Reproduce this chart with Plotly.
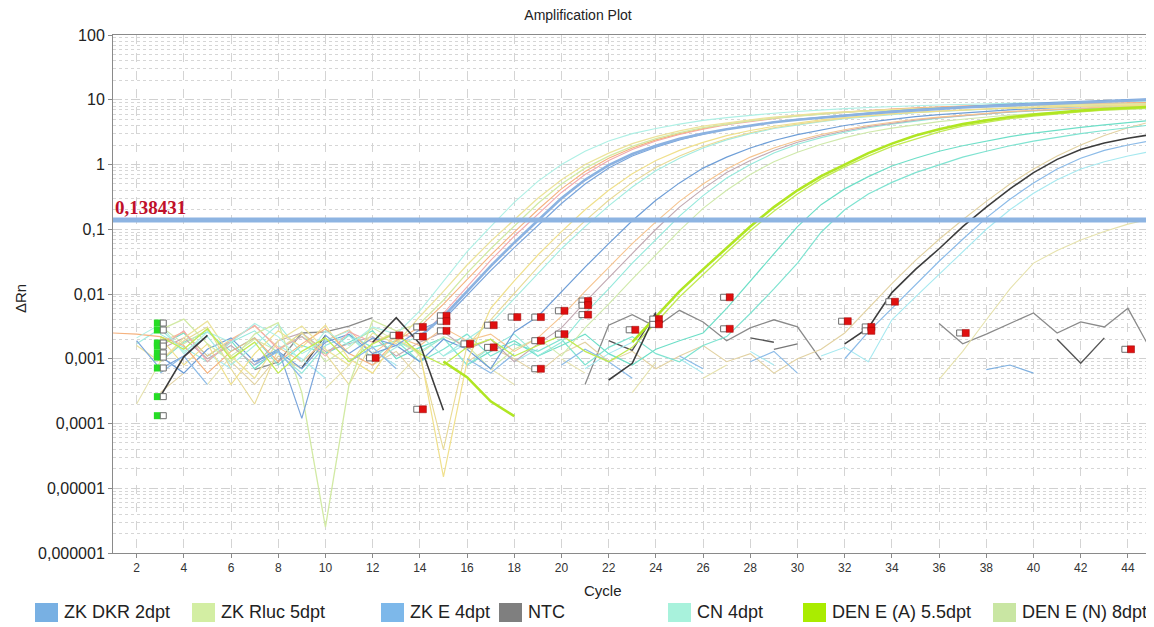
import math
import plotly.graph_objects as go

# ---------------- data ----------------
threshold = 0.138431
x_range = [1, 44.85]
y_tick_vals = [1e-6, 1e-5, 1e-4, 1e-3, 1e-2, 1e-1, 1, 10, 100]
y_tick_text = ["0,000001", "0,00001", "0,0001", "0,001", "0,01", "0,1", "1", "10", "100"]
x_tick_vals = list(range(2, 45, 2))

# each curve: baseline part (from cycle 1) and amplification part (ending at cycle 45)
cyan_a_base = [None, 0.0021, 0.0034, 0.0012, 0.0026, 0.0018, 0.0035, 0.0022, 0.0009, 0.0027, 0.0016, 0.0031, 0.0024]
cyan_a_amp = [0.0055, 0.016, 0.045, 0.11, 0.26, 0.55, 1.0, 1.6, 2.3, 3.0, 3.6, 4.2, 4.8, 5.3, 5.8, 6.2, 6.6, 7.0, 7.3, 7.6, 7.9, 8.1, 8.3, 8.5, 8.7, 8.8, 9.0, 9.1, 9.2, 9.3, 9.4, 9.5]

yellow_a_base = [None, 0.0016, 0.0009, 0.0021, 0.0038, 0.0011, 0.0005, 0.0019, 0.0032, 0.0014, 0.0008, 0.0025, 0.0017]
yellow_a_amp = [0.0045, 0.011, 0.028, 0.065, 0.14, 0.3, 0.58, 1.0, 1.5, 2.1, 2.7, 3.3, 3.9, 4.4, 4.9, 5.4, 5.8, 6.2, 6.5, 6.8, 7.1, 7.3, 7.5, 7.7, 7.9, 8.0, 8.1, 8.2, 8.3, 8.4, 8.5, 8.6]

green_a_base = [None, None, 0.0028, 0.0041, 0.0017, 0.0009, 0.0024, 0.0036, 0.0003, 0.0000025, 0.0004, 0.0039, 0.0027]
green_a_amp = [0.0035, 0.008, 0.021, 0.05, 0.11, 0.25, 0.5, 0.88, 1.35, 1.9, 2.5, 3.1, 3.7, 4.2, 4.7, 5.2, 5.6, 6.0, 6.4, 6.7, 7.0, 7.2, 7.5, 7.7, 7.9, 8.1, 8.2, 8.3, 8.4, 8.5, 8.6, 8.7]

orange_a_base = [0.0025, 0.0024, 0.0022, 0.0016, 0.0006, 0.0013, 0.0021, 0.0009, 0.0017, 0.0029, 0.0012, 0.0008, 0.0019, 0.0031]
orange_a_amp = [0.007, 0.017, 0.04, 0.09, 0.2, 0.42, 0.78, 1.25, 1.8, 2.4, 3.0, 3.6, 4.2, 4.7, 5.2, 5.7, 6.1, 6.5, 6.9, 7.2, 7.5, 7.8, 8.0, 8.2, 8.4, 8.6, 8.7, 8.8, 8.9, 9.0, 9.1]

salmon_a_base = [None, None, 0.0015, 0.0027, 0.0009, 0.0019, 0.0033, 0.0014, 0.0022, 0.0011, 0.0026, 0.0018, 0.0024, 0.0021]
salmon_a_amp = [0.005, 0.013, 0.033, 0.078, 0.17, 0.37, 0.7, 1.15, 1.7, 2.3, 2.9, 3.5, 4.1, 4.6, 5.1, 5.6, 6.0, 6.4, 6.8, 7.1, 7.4, 7.7, 7.9, 8.1, 8.3, 8.4, 8.5, 8.6, 8.7, 8.8, 8.9]

blue_dkr_base = []
blue_dkr_amp = [0.0022, 0.0045, 0.011, 0.027, 0.062, 0.138, 0.3, 0.58, 0.98, 1.45, 1.95, 2.5, 3.0, 3.5, 4.0, 4.5, 4.9, 5.3, 5.7, 6.1, 6.5, 6.9, 7.3, 7.6, 7.9, 8.2, 8.5, 8.8, 9.1, 9.4, 9.7, 10.0]

blue_dkr2_base = [None, 0.0019, 0.0007, 0.0011, 0.0023, None, 0.0009, 0.0014, 0.00012, 0.0023, 0.0012, 0.0021, 0.0016, 0.0028]
blue_dkr2_amp = [0.004, 0.0095, 0.023, 0.052, 0.115, 0.25, 0.5, 0.88, 1.35, 1.85, 2.4, 2.95, 3.5, 4.0, 4.5, 5.0, 5.4, 5.9, 6.3, 6.7, 7.1, 7.5, 7.9, 8.2, 8.6, 8.9, 9.2, 9.5, 9.8, 10.1, 10.4]

yellow_b_base = [None, None, 0.0021, 0.0008, 0.0017, 0.0004, 0.0012, 0.0027, 0.0015, 0.0033, 0.0010, 0.0006, 0.0020, 0.0013, 0.000015]
yellow_b_amp = [0.0009, 0.006, 0.016, 0.04, 0.092, 0.2, 0.4, 0.72, 1.15, 1.65, 2.2, 2.8, 3.35, 3.9, 4.4, 4.9, 5.3, 5.7, 6.1, 6.4, 6.7, 7.0, 7.2, 7.4, 7.6, 7.8, 7.9, 8.0, 8.1, 8.2]

yellow_c_base = [None, None, 0.0009, 0.0019, 0.0031, 0.0007, 0.0002, 0.0014, 0.0025, 0.0012, 0.0004, 0.0018, 0.0026, 0.0011, 0.00004, 0.0016]
yellow_c_amp = [0.004, 0.01, 0.026, 0.062, 0.135, 0.28, 0.53, 0.9, 1.35, 1.9, 2.5, 3.1, 3.7, 4.2, 4.7, 5.2, 5.6, 6.0, 6.4, 6.7, 7.0, 7.3, 7.5, 7.7, 7.9, 8.0, 8.1, 8.2, 8.3]

cyan_b_base = [None, 0.0017, 0.0029, 0.0013, 0.0022, 0.0008, 0.0016, 0.0034, 0.0012, 0.0019, 0.0027, 0.0009, 0.0015, 0.0023, 0.0011, 0.0020]
cyan_b_amp = [0.0035, 0.0085, 0.021, 0.05, 0.11, 0.23, 0.45, 0.8, 1.25, 1.8, 2.4, 3.0, 3.6, 4.1, 4.6, 5.1, 5.5, 5.9, 6.3, 6.6, 6.9, 7.2, 7.4, 7.6, 7.8, 7.9, 8.0, 8.1, 8.2]

blue_e_base = [None, None, 0.0011, 0.0006, 0.0014, 0.0021, 0.0009, 0.0013, 0.0007, 0.0018, 0.0024, 0.0012, 0.0016, 0.0009, 0.0020, 0.0014, 0.0007, 0.0026]
blue_e_amp = [0.0045, 0.011, 0.026, 0.06, 0.135, 0.28, 0.52, 0.88, 1.3, 1.8, 2.35, 2.9, 3.45, 4.0, 4.5, 5.0, 5.5, 5.9, 6.3, 6.7, 7.0, 7.3, 7.6, 7.9, 8.1, 8.3, 8.5]

orange_b_base = [None, None, 0.0018, 0.0026, 0.0011, 0.0020, 0.0032, 0.0015, 0.0009, 0.0019, 0.0028, 0.0012, 0.0022, 0.0016, 0.0030, 0.0019, 0.0024, 0.0013, 0.0021]
orange_b_amp = [0.0045, 0.011, 0.026, 0.06, 0.13, 0.27, 0.5, 0.85, 1.3, 1.8, 2.35, 2.9, 3.45, 4.0, 4.5, 5.0, 5.4, 5.8, 6.2, 6.6, 6.9, 7.2, 7.5, 7.7, 7.9, 8.1]

mauve_b_base = [None, None, 0.0014, 0.0021, 0.0010, 0.0016, 0.0008, 0.0019, 0.0025, 0.0013, 0.0017, 0.0022, 0.0011, 0.0018, 0.0026, 0.0014, 0.0020, 0.0009, 0.0017]
mauve_b_amp = [0.003, 0.0075, 0.018, 0.043, 0.1, 0.22, 0.42, 0.75, 1.15, 1.65, 2.2, 2.75, 3.3, 3.85, 4.35, 4.85, 5.3, 5.7, 6.1, 6.5, 6.8, 7.1, 7.4, 7.6, 7.8, 8.0]

cyan_c_base = [None, None, 0.0024, 0.0015, 0.0009, 0.0018, 0.0027, 0.0012, 0.0006, 0.0016, 0.0023, 0.0010, 0.0019, 0.0013, 0.0021, 0.0008, 0.0015, 0.0024, 0.0011, 0.0018]
cyan_c_amp = [0.005, 0.012, 0.03, 0.07, 0.16, 0.33, 0.62, 1.0, 1.5, 2.05, 2.6, 3.15, 3.7, 4.2, 4.7, 5.2, 5.6, 6.0, 6.4, 6.7, 7.0, 7.3, 7.5, 7.7, 7.9]

green_b_base = [None, None, 0.0032, 0.0017, 0.0028, 0.0011, 0.0020, 0.0013, 0.0026, 0.0009, 0.0015, 0.0030, 0.0019, 0.0012, 0.0022, 0.0016, 0.0007, 0.0014, 0.0021, 0.0011]
green_b_amp = [0.003, 0.007, 0.017, 0.04, 0.095, 0.21, 0.4, 0.7, 1.1, 1.55, 2.05, 2.6, 3.15, 3.65, 4.15, 4.6, 5.0, 5.4, 5.8, 6.1, 6.4, 6.7, 6.9, 7.1, 7.3]

lime_a_base = [None, None, None, None, None, None, None, None, None, None, None, None, None, None, 0.0009, 0.00052, 0.00022, 0.00013, None, None, None, None]
lime_a_amp = [0.0018, 0.0044, 0.011, 0.024, 0.052, 0.11, 0.22, 0.4, 0.66, 1.0, 1.5, 2.1, 2.8, 3.5, 4.2, 4.8, 5.4, 5.9, 6.4, 6.8, 7.2, 7.5, 7.8]

lime_b_base = [None, None, 0.0022, 0.0014, 0.0029, 0.0010, 0.0018, 0.0006, 0.0013, 0.0021, 0.0009, 0.0017, 0.0025, 0.0012, 0.0008, 0.0015, 0.0020, 0.0011, 0.0016, 0.0023, 0.0013, 0.0009]
lime_b_amp = [0.0015, 0.0036, 0.009, 0.02, 0.044, 0.095, 0.19, 0.35, 0.6, 0.92, 1.35, 1.9, 2.5, 3.2, 3.9, 4.5, 5.1, 5.6, 6.1, 6.5, 6.9, 7.2, 7.5]

cyan_d_base = [None, None, 0.0016, 0.0025, 0.0011, 0.0019, 0.0007, 0.0014, 0.0022, 0.0012, 0.0018, 0.0027, 0.0010, 0.0015, 0.0021, 0.0008, 0.0013, 0.0019, 0.0011, 0.0016, 0.0024, 0.0012, 0.0008, 0.0014, 0.0019]
cyan_d_amp = [0.0025, 0.006, 0.016, 0.042, 0.11, 0.24, 0.42, 0.65, 0.95, 1.25, 1.6, 1.95, 2.3, 2.7, 3.05, 3.4, 3.75, 4.1, 4.45, 4.8]

cyan_e_base = [None, None, 0.0009, 0.0018, 0.0026, 0.0013, 0.0021, 0.0008, 0.0016, 0.0012, 0.0023, 0.0015, 0.0019, 0.0009, 0.0014, 0.0024, 0.0011, 0.0017, 0.0013, 0.0020, 0.0008, 0.0015, 0.0022, 0.0012, 0.0009, 0.0016]
cyan_e_amp = [0.0022, 0.005, 0.012, 0.03, 0.09, 0.2, 0.35, 0.53, 0.75, 1.0, 1.3, 1.6, 1.95, 2.3, 2.65, 3.0, 3.35, 3.7, 4.1]

beige_base = [None, None, 0.0003, 0.0006, None, 0.0009, 0.0004, 0.0011, 0.0007, None, None, 0.0008, 0.0013, 0.0005, None, 0.0009, 0.0015, 0.0010, 0.0006, 0.0012, 0.0018, 0.0009, 0.0013, 0.0007, 0.0011, 0.0016, 0.0009, 0.0012, 0.0006, 0.0010, 0.0014]
beige_amp = [0.0025, 0.006, 0.0145, 0.033, 0.07, 0.14, 0.27, 0.5, 0.85, 1.35, 2.0, 2.8, 3.7, 4.6]

ntc_a_base = [None, None, 0.00026, 0.00107, 0.0023, None, None, None, None, None, None, 0.0018, 0.0043, 0.0017, 0.00016, None, None, None, None, None, None, 0.00047, 0.00085, 0.0050, None, None, None, None, None, None, None]
ntc_a_amp = [0.0017, 0.003, 0.0105, 0.024, 0.05, 0.11, 0.22, 0.42, 0.75, 1.2, 1.7, 2.15, 2.55, 2.9]

ntc_b_vals = [None, None, None, None, None, None, 0.00068, 0.00089, 0.0025, 0.0026, 0.0032, 0.0043, None, None, None, None, None, None, None, None, 0.0004, 0.0033, 0.0048, 0.0031, 0.0056, 0.0037, 0.0019, 0.003, 0.004, 0.0031, 0.00095, None, None, None, None, 0.0035, 0.0017, 0.0024, 0.0035, 0.0051, 0.0025, 0.0037, 0.0031, 0.006, 0.0013]
ntc_c_vals = [None, None, None, None, None, None, None, None, 0.00072, 0.0023, None, None, None, None, None, None, None, None, None, None, None, 0.0019, 0.00135, 0.0052, None, None, None, 0.0021, 0.0018, None, None, None, None, None, None, None, None, None, None, None, 0.002, 0.00085, 0.0021, None, None]
ntc_d_vals = [None] * 28 + [0.0014, 0.0017]

blue_late_base = [None, None, 0.0006, 0.0011, 0.0004, None, 0.0008, 0.0013, 0.0005, None, 0.0009, 0.0015, 0.0007, None, None, 0.0010, 0.0006, 0.0012, None, 0.0008, 0.0014, 0.0009, 0.0005, None, 0.0011, 0.0007, None, 0.0009, 0.0013, 0.0006, None, 0.0010]
blue_late_amp = [0.0026, 0.006, 0.014, 0.032, 0.07, 0.15, 0.29, 0.52, 0.85, 1.25, 1.65, 2.0, 2.35]

cyan_late_base = [None, None, 0.0018, None, 0.0012, 0.0007, None, 0.0016, 0.0010, 0.0005, None, 0.0013, 0.0008, None, 0.0011, 0.0017, None, 0.0009, 0.0014, None, 0.0007, 0.0012, 0.0018, None, 0.0010, 0.0006, None, 0.0013, 0.0008, None, 0.0011, 0.0015, 0.0009]
cyan_late_amp = [0.004, 0.009, 0.02, 0.045, 0.1, 0.2, 0.36, 0.58, 0.85, 1.1, 1.35, 1.6]

yellow_late_base = [None, 0.0002, 0.0009, None, 0.0004, 0.0011, None, 0.0006, None, 0.00035, 0.0008, None, 0.0005, 0.0012, None, None, 0.0007, 0.0004, None, 0.0010, 0.0006, None, 0.0003, 0.0009, None, 0.0005, 0.0008, None, 0.0004, None, 0.0007, None, 0.0005, None, None]
yellow_late_amp = [0.00048, 0.0013, 0.004, 0.012, 0.03, 0.047, 0.068, 0.092, 0.12, 0.145]

zk_e_short_vals = [None] * 37 + [0.00068, 0.0008, 0.0006]

# baseline-start (green) and baseline-end (red) markers
start_cycles = [3, 3, 3, 3, 3, 3, 3, 3, 3]
start_vals = [0.00356, 0.00278, 0.00175, 0.00157, 0.00123, 0.00106, 0.00072, 0.00026, 0.000132]
end_cycles = [12, 13, 14, 14, 14, 15, 15, 15, 16, 17, 17, 18, 19, 19, 19, 20, 20, 21, 21, 21, 23, 24, 24, 27, 27, 32, 33, 33, 34, 37, 44]
end_vals = [0.00103, 0.0023, 0.0031, 0.0022, 0.000166, 0.0046, 0.0038, 0.0027, 0.0017, 0.0033, 0.0015, 0.0044, 0.0044, 0.0019, 0.0007, 0.0055, 0.0024, 0.0078, 0.0067, 0.0048, 0.0028, 0.0041, 0.0034, 0.0089, 0.0029, 0.0038, 0.0031, 0.0027, 0.0076, 0.0025, 0.0014]

legend_names = ["ZK DKR 2dpt", "ZK Rluc 5dpt", "ZK E 4dpt", "NTC", "CN 4dpt", "DEN E (A) 5.5dpt", "DEN E (N) 8dpt"]
legend_colors = ["#78b0e3", "#d3eea3", "#7db8ea", "#7f7f7f", "#a8f2dc", "#aaec00", "#c9e6a3"]
legend_px = [35, 192, 381, 499, 668, 803, 993]

# page geometry (the page body adds an 8 px offset)
PAGE_OFF = 8
PLOT_L, PLOT_R, PLOT_T, PLOT_B = 113, 1148, 35, 553
PW, PH = PLOT_R - PLOT_L, PLOT_B - PLOT_T


def px_x(px):
    return (px - PLOT_L) / PW


def px_y(py):
    return (PLOT_B - py) / PH


def build(base, amp=None):
    pts = {}
    for i, v in enumerate(base):
        pts[i + 1] = v
    if amp:
        s = 46 - len(amp)
        for i, v in enumerate(amp):
            pts[s + i] = v
    xs = sorted(pts)
    return xs, [pts[c] for c in xs]


curves = [
    (ntc_b_vals, None, "#8a8a8a", 1.3),
    (ntc_c_vals, None, "#555555", 1.4),
    (ntc_d_vals, None, "#777777", 1.3),
    (zk_e_short_vals, None, "#7fb0e0", 1.2),
    (yellow_late_base, yellow_late_amp, "#e6e2ac", 1.1),
    (cyan_late_base, cyan_late_amp, "#a6e9f0", 1.1),
    (beige_base, beige_amp, "#e2d2a2", 1.1),
    (cyan_e_base, cyan_e_amp, "#7fe3d1", 1.2),
    (cyan_d_base, cyan_d_amp, "#6edfc8", 1.2),
    (green_b_base, green_b_amp, "#cfe9aa", 1.1),
    (cyan_c_base, cyan_c_amp, "#95e9dc", 1.1),
    (mauve_b_base, mauve_b_amp, "#c2a9b2", 1.1),
    (orange_b_base, orange_b_amp, "#f6c48f", 1.1),
    (blue_e_base, blue_e_amp, "#6e9ed7", 1.2),
    (cyan_b_base, cyan_b_amp, "#a3ece0", 1.1),
    (yellow_c_base, yellow_c_amp, "#e8da96", 1.1),
    (yellow_b_base, yellow_b_amp, "#f0e08c", 1.2),
    (salmon_a_base, salmon_a_amp, "#f3a9ad", 1.1),
    (orange_a_base, orange_a_amp, "#f5b27e", 1.1),
    (green_a_base, green_a_amp, "#d2eaa4", 1.3),
    (yellow_a_base, yellow_a_amp, "#ece39b", 1.3),
    (cyan_a_base, cyan_a_amp, "#aef0e5", 1.1),
    (blue_dkr2_base, blue_dkr2_amp, "#7aa5db", 1.2),
    (blue_late_base, blue_late_amp, "#8cbbe8", 1.2),
    (lime_b_base, lime_b_amp, "#c2ea55", 1.3),
    (blue_dkr_base, blue_dkr_amp, "#8bb2e1", 2.6),
    (lime_a_base, lime_a_amp, "#b0e622", 2.6),
    (ntc_a_base, ntc_a_amp, "#3c3c3c", 1.6),
]

fig = go.Figure()
for base, amp, color, width in curves:
    xs, ys = build(base, amp)
    fig.add_trace(go.Scatter(x=xs, y=ys, mode="lines", line=dict(color=color, width=width),
                             connectgaps=False, hoverinfo="skip"))

# threshold line
fig.add_trace(go.Scatter(x=[1, 45], y=[threshold, threshold], mode="lines",
                         line=dict(color="#8db4e2", width=5), hoverinfo="skip"))

# baseline markers
fig.add_trace(go.Scatter(x=[c - 0.12 for c in start_cycles], y=start_vals, mode="markers",
                         marker=dict(symbol="square", size=7, color="#25dd25", line=dict(width=0))))
fig.add_trace(go.Scatter(x=[c + 0.13 for c in start_cycles], y=start_vals, mode="markers",
                         marker=dict(symbol="square", size=6, color="white", line=dict(color="#6d6d6d", width=1))))
fig.add_trace(go.Scatter(x=[c - 0.13 for c in end_cycles], y=end_vals, mode="markers",
                         marker=dict(symbol="square", size=6, color="white", line=dict(color="#6d6d6d", width=1))))
fig.add_trace(go.Scatter(x=[c + 0.13 for c in end_cycles], y=end_vals, mode="markers",
                         marker=dict(symbol="square", size=7, color="#e01010", line=dict(color="#9a0000", width=0.5))))

W, H = 1154 - PAGE_OFF, 627 - PAGE_OFF
fig.update_layout(
    width=W, height=H,
    margin=dict(l=PLOT_L - PAGE_OFF, r=W - (PLOT_R - PAGE_OFF), t=PLOT_T - PAGE_OFF,
                b=H - (PLOT_B - PAGE_OFF), autoexpand=False),
    paper_bgcolor="white", plot_bgcolor="white",
    showlegend=False,
    font=dict(family="Liberation Sans, Arial, sans-serif", color="#222222"),
    title=dict(text="Amplification Plot", xref="container", x=(578 - PAGE_OFF) / W, xanchor="center",
               yref="container", y=1 - (15 - PAGE_OFF) / H, yanchor="middle",
               font=dict(size=14, color="#222222")),
)

fig.update_xaxes(
    range=x_range, tickvals=x_tick_vals, ticks="outside", ticklen=4, tickcolor="#8a8a8a",
    showline=True, linecolor="#8a8a8a", linewidth=1, mirror=True, automargin=False,
    showgrid=True, gridcolor="#d4d4d4", griddash="dash", gridwidth=1, zeroline=False,
    tickfont=dict(size=12, color="#333333"),
)
fig.update_yaxes(
    type="log", range=[-6, 2], tickvals=y_tick_vals, ticktext=y_tick_text,
    ticks="outside", ticklen=4, tickcolor="#8a8a8a", automargin=False,
    showline=True, linecolor="#8a8a8a", linewidth=1, mirror=True,
    showgrid=True, gridcolor="#d0d0d0", griddash="dash", gridwidth=1, zeroline=False,
    minor=dict(dtick="D1", showgrid=True, gridcolor="#d6d6d6", griddash="dot", ticks=""),
    tickfont=dict(size=16, color="#222222"),
)

# threshold label
fig.add_annotation(x=0, xref="paper", xanchor="left", y=math.log10(threshold), yref="y",
                   yanchor="bottom", yshift=0,
                   text="<b>" + f"{threshold:.6f}".replace(".", ",") + "</b>", showarrow=False,
                   font=dict(family="Liberation Serif, Times New Roman, serif", size=19, color="#c0102a"))

# axis titles
fig.add_annotation(x=px_x(603), xref="paper", xanchor="center", y=px_y(590), yref="paper",
                   yanchor="middle", text="Cycle", showarrow=False, font=dict(size=15, color="#222222"))
fig.add_annotation(x=px_x(20), xref="paper", xanchor="center", y=px_y(299), yref="paper",
                   yanchor="middle", text="ΔRn", textangle=-90, showarrow=False,
                   font=dict(size=15, color="#222222"))

# legend (squares + labels)
for name, color, px in zip(legend_names, legend_colors, legend_px):
    fig.add_shape(type="rect", xref="paper", yref="paper",
                  x0=px_x(px), x1=px_x(px + 23), y0=px_y(622), y1=px_y(603),
                  fillcolor=color, line=dict(width=0))
    fig.add_annotation(x=px_x(px + 27), xref="paper", xanchor="left",
                       y=px_y(612), yref="paper", yanchor="middle",
                       text=name, showarrow=False, font=dict(size=18, color="#222222"))

fig.write_html("out.html")
